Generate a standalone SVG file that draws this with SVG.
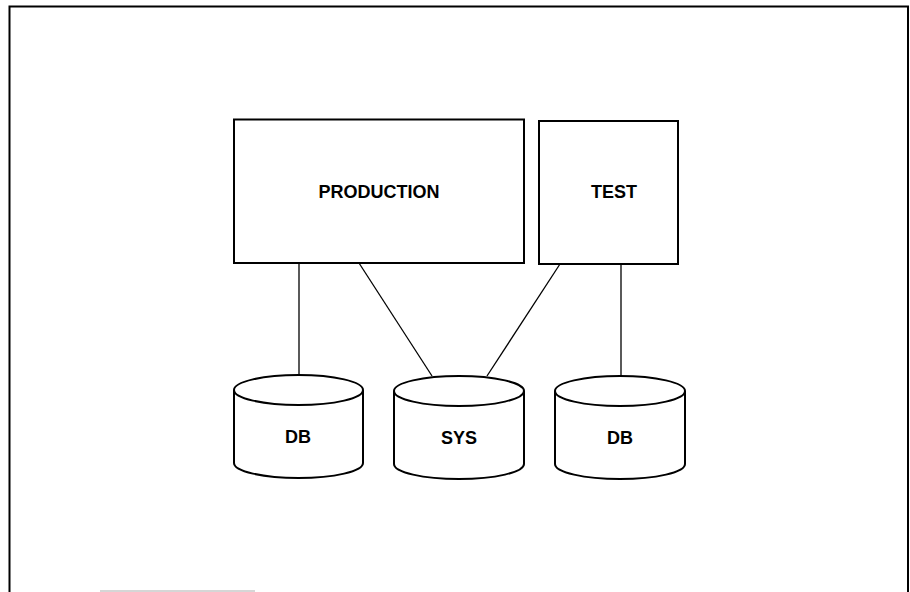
<svg xmlns="http://www.w3.org/2000/svg" width="910" height="592" viewBox="0 0 910 592">
<style>
.box{fill:#fff;stroke:#000;stroke-width:2}
.cyl{fill:#fff;stroke:#000;stroke-width:2}
.conn{stroke:#000;stroke-width:1.3;fill:none}
.lbl{font-family:"Liberation Sans",Arial,sans-serif;font-weight:bold;font-size:18px;fill:#000;text-anchor:middle}
</style>
<rect width="910" height="592" fill="#fff"/>
<g id="frame">
<path d="M9.5,593 V6.5 H908 V593" fill="none" stroke="#000" stroke-width="2"/>
<line x1="100" y1="591" x2="255" y2="591" stroke="#c8c8c8" stroke-width="1.5"/>
</g>
<g id="connectors">
<line class="conn" x1="299" y1="263" x2="299" y2="375"/>
<line class="conn" x1="359" y1="263" x2="432" y2="376"/>
<line class="conn" x1="560" y1="264" x2="487" y2="376"/>
<line class="conn" x1="621" y1="264" x2="621" y2="375"/>
</g>
<g id="production">
<rect class="box" x="234" y="119.5" width="290" height="143.5"/>
<text class="lbl" x="379" y="198">PRODUCTION</text>
</g>
<g id="test">
<rect class="box" x="539" y="121" width="139" height="143"/>
<text class="lbl" x="614" y="198">TEST</text>
</g>
<g id="db1">
<path class="cyl" d="M234,390 V463 A64.5,15 0 0 0 363,463 V390"/>
<ellipse class="cyl" cx="298.5" cy="390" rx="64.5" ry="15"/>
<text class="lbl" x="298" y="443">DB</text>
</g>
<g id="sys">
<path class="cyl" d="M394,391 V464 A65,15 0 0 0 524,464 V391"/>
<ellipse class="cyl" cx="459" cy="391" rx="65" ry="15"/>
<text class="lbl" x="459" y="444">SYS</text>
</g>
<g id="db2">
<path class="cyl" d="M555,391 V464 A65,15 0 0 0 685,464 V391"/>
<ellipse class="cyl" cx="620" cy="391" rx="65" ry="15"/>
<text class="lbl" x="620" y="444">DB</text>
</g>
</svg>
